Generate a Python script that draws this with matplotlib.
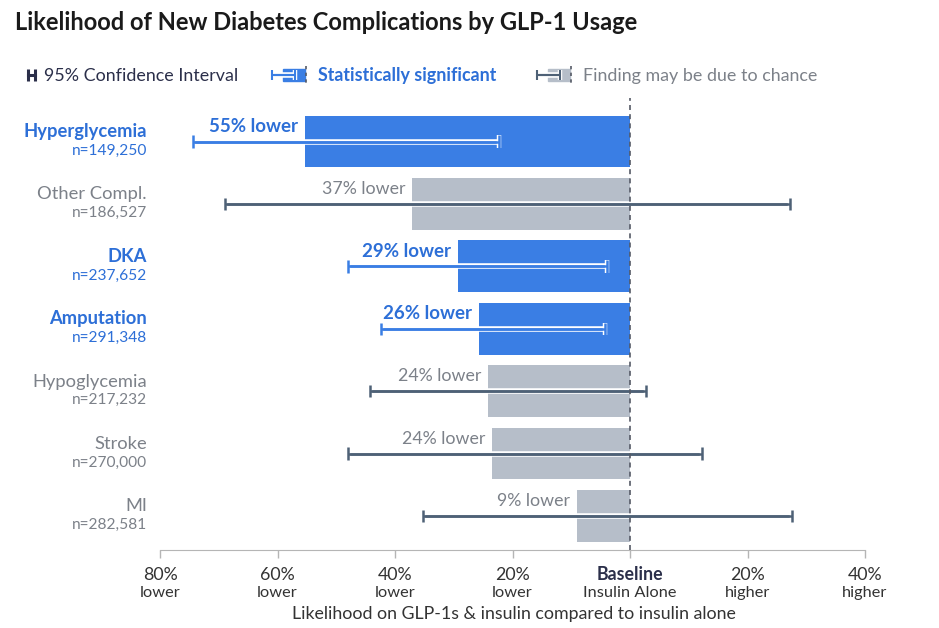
import matplotlib
matplotlib.use("Agg")
import matplotlib.pyplot as plt
import matplotlib.patheffects as pe
from matplotlib.patches import Rectangle
from matplotlib.transforms import blended_transform_factory, offset_copy
import numpy as np

plt.rcParams['font.family'] = ['Lato', 'DejaVu Sans']

# data
categories = ['Hyperglycemia', 'Other Compl.', 'DKA', 'Amputation',
              'Hypoglycemia', 'Stroke', 'MI']
sample_sizes = ['n=149,250', 'n=186,527', 'n=237,652', 'n=291,348',
                'n=217,232', 'n=270,000', 'n=282,581']
effect = [-55.3, -37.1, -29.3, -25.7, -24.2, -23.5, -9.1]
effect_labels = ['55% lower', '37% lower', '29% lower', '26% lower',
                 '24% lower', '24% lower', '9% lower']
ci_low = [-74.3, -68.9, -48.0, -42.4, -44.3, -48.0, -35.3]
ci_high = [-22.3, 27.2, -3.9, -4.3, 2.7, 12.3, 27.6]
significant = [True, False, True, True, False, False, False]

tick_values = [-80, -60, -40, -20, 0, 20, 40]
tick_top = ['80%', '60%', '40%', '20%', 'Baseline', '20%', '40%']
tick_bottom = ['lower', 'lower', 'lower', 'lower', 'Insulin Alone', 'higher', 'higher']

BLUE = '#3a7ee4'
BLUE_TEXT = '#2d6fd7'
GRAY_BAR = '#b6bec9'
GRAY_TEXT = '#7c8189'
CI_GRAY = '#4e6176'
NAVY = '#2b2f4a'
DARK = '#333333'

W, H = 939, 628
fig = plt.figure(figsize=(W / 100, H / 100), dpi=100)

ax_top, ax_bot = 98, 550
ax = fig.add_axes([160 / W, 1 - ax_bot / H, 705 / W, (ax_bot - ax_top) / H])

y = np.arange(len(categories))
bar_colors = [BLUE if s else GRAY_BAR for s in significant]
ax.barh(y, effect, height=0.83, color=bar_colors, zorder=2)

halo = [pe.withStroke(linewidth=4, foreground='white')]
cap_halo = [pe.withStroke(linewidth=3.2, foreground='white')]


def ci_bar(a, xs, ys, c, lw, ms, z=3):
    # white outline under the line, caps on top, then the bare line again
    a.plot(xs, ys, color=c, lw=lw, zorder=z, path_effects=halo,
           solid_capstyle='butt')
    a.plot(xs, ys, ls='none', marker='|', ms=ms, mew=lw, color=c,
           zorder=z + 0.1, path_effects=cap_halo)
    a.plot(xs, ys, color=c, lw=lw, zorder=z + 0.2, solid_capstyle='butt')


for yi, lo, hi, sig in zip(y, ci_low, ci_high, significant):
    ci_bar(ax, [lo, hi], [yi, yi], BLUE if sig else CI_GRAY, 1.8, 9)

for yi, val, lab, sig in zip(y, effect, effect_labels, significant):
    ax.annotate(lab, xy=(val, yi), xytext=(-5, 7), textcoords='offset points',
                ha='right', va='baseline', fontsize=13.5 if sig else 12.8,
                color=BLUE_TEXT if sig else GRAY_TEXT,
                fontweight='bold' if sig else 'normal', zorder=5)

ax.axvline(0, color='#555a66', ls=(0, (3, 2.5)), lw=1.2, zorder=4)

ax.set_xlim(-80, 40)
ax.set_ylim(len(categories) - 1 + 34 / 62.4, -43.5 / 62.4)
for s in ['top', 'right', 'left']:
    ax.spines[s].set_visible(False)
ax.spines['bottom'].set_color('#b5b5b5')
ax.set_yticks([])
ax.set_xticks(tick_values, labels=[''] * len(tick_values))
ax.tick_params(axis='x', direction='out', length=6, color='#b5b5b5', width=1)

# category labels
lab_tr = blended_transform_factory(fig.transFigure, ax.transData)
name_tr = offset_copy(lab_tr, fig=fig, x=0, y=3.3, units='points')
n_tr = offset_copy(lab_tr, fig=fig, x=0, y=-9.4, units='points')
for yi, name, n, sig in zip(y, categories, sample_sizes, significant):
    col = BLUE_TEXT if sig else GRAY_TEXT
    ax.text(147 / W, yi, name, transform=name_tr, ha='right', va='baseline',
            fontsize=13.2, color=col, fontweight='bold' if sig else 'normal')
    ax.text(147 / W, yi, n, transform=n_tr, ha='right', va='baseline',
            fontsize=11.2, color=col)

# x tick labels
tk_tr = blended_transform_factory(ax.transData, fig.transFigure)
for v, t1, t2 in zip(tick_values, tick_top, tick_bottom):
    base = v == 0
    ax.text(v, 1 - 575 / H, t1, transform=tk_tr, ha='center', va='center',
            fontsize=12.8, color=NAVY if base else DARK,
            fontweight='bold' if base else 'normal')
    ax.text(v, 1 - 593 / H, t2, transform=tk_tr, ha='center', va='center',
            fontsize=11.8, color=DARK)

fig.text(514 / W, 1 - 614 / H, 'Likelihood on GLP-1s & insulin compared to insulin alone',
         ha='center', va='center', fontsize=12.8, color=DARK)

fig.text(15 / W, 1 - 22 / H, 'Likelihood of New Diabetes Complications by GLP-1 Usage',
         ha='left', va='center', fontsize=17, fontweight='bold', color='#1a1a1a')

# legend drawn in pixel space
lg = fig.add_axes([0, 0, 1, 1], zorder=10)
lg.set_xlim(0, W)
lg.set_ylim(H, 0)
lg.axis('off')
ly = 75
lg.plot([28, 35], [ly, ly], color=NAVY, lw=2.2)
lg.plot([28, 35], [ly, ly], ls='none', marker='|', ms=8, mew=2.2, color=NAVY)
lg.text(44, ly + 1, '95% Confidence Interval', va='center', fontsize=12.9, color=NAVY)

for x0, col, ci_col, label, bold, tcol in [
        (272, BLUE, BLUE, 'Statistically significant', True, BLUE_TEXT),
        (537, GRAY_BAR, CI_GRAY, 'Finding may be due to chance', False, GRAY_TEXT)]:
    lg.add_patch(Rectangle((x0 + 11, ly - 6), 22, 12, color=col))
    ci_bar(lg, [x0, x0 + 23], [ly, ly], ci_col, 1.5, 7)
    lg.plot([x0 + 34, x0 + 34], [ly - 9, ly + 9], color='#555a66', lw=1.2,
            ls=(0, (2, 2)))
    lg.text(x0 + 46, ly + 1, label, va='center', fontsize=12.9, color=tcol,
            fontweight='bold' if bold else 'normal')

fig.savefig('out.png', dpi=100)
